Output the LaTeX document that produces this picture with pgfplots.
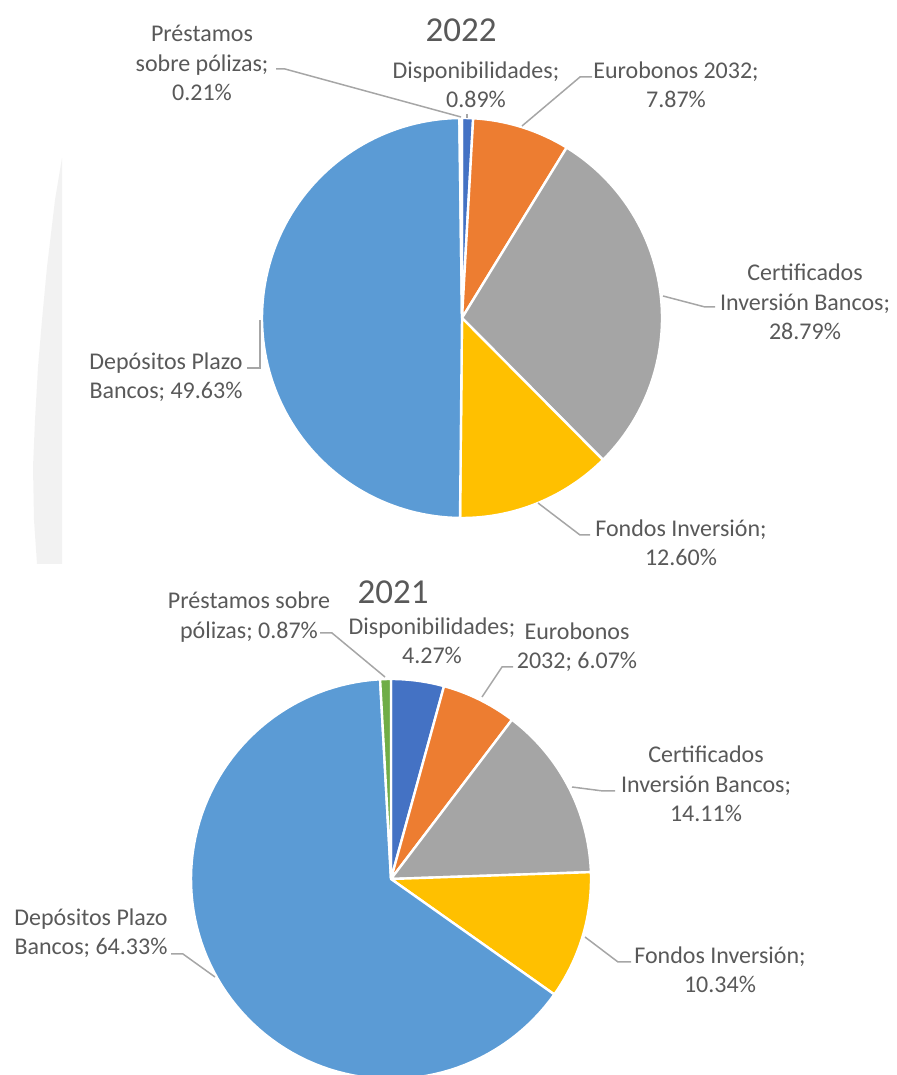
\documentclass[border=0pt]{standalone}
\usepackage{pgfplots}
\pgfplotsset{compat=1.18}
\usepackage{pgfplotstable}
\usepackage{fontspec}
\setmainfont{Carlito}
\definecolor{txt}{HTML}{595959}
\definecolor{lead}{HTML}{A6A6A6}
\definecolor{bgarc}{HTML}{F2F2F2}
\definecolor{cDisp}{HTML}{4472C4}
\definecolor{cEuro}{HTML}{ED7D31}
\definecolor{cCert}{HTML}{A5A5A5}
\definecolor{cFond}{HTML}{FFC000}
\definecolor{cDep}{HTML}{5B9BD5}
\definecolor{cPres}{HTML}{70AD47}

% 2022
\pgfplotstableread{
key v
Disp 0.89
Euro 7.87
Cert 28.79
Fond 12.60
Dep 49.63
Pres 0.21
}\dataA
% 2021
\pgfplotstableread{
key v
Disp 4.27
Euro 6.07
Cert 14.11
Fond 10.34
Dep 64.33
Pres 0.87
}\dataB

\newcommand\angles[2]{%
  \pgfplotstablegetrowsof{#1}\pgfmathtruncatemacro\lastrow{\pgfplotsretval-1}%
  \gdef\tot{0}%
  \foreach \i in {0,...,\lastrow}{\pgfplotstablegetelem{\i}{v}\of{#1}\pgfmathsetmacro\tmpv{\tot+\pgfplotsretval}\xdef\tot{\tmpv}}%
  \gdef\cumsum{0}%
  \foreach \i in {0,...,\lastrow}{%
    \pgfplotstablegetelem{\i}{v}\of{#1}%
    \pgfmathsetmacro\st{90-(\cumsum/\tot)*360}%
    \pgfmathsetmacro\newcum{\cumsum+\pgfplotsretval}%
    \pgfmathsetmacro\en{90-(\newcum/\tot)*360}%
    \expandafter\xdef\csname #2s\i\endcsname{\st}%
    \expandafter\xdef\csname #2e\i\endcsname{\en}%
    \xdef\cumsum{\newcum}}}

\newcommand\pieslice[5]{%
  \edef\tmpcmd{\noexpand\addplot[fill=#5, draw=white, line width=1.2pt, line join=round,
    domain=\csname #3e#4\endcsname:\csname #3s#4\endcsname, samples=100,
    variable=\noexpand\t, forget plot]
    ({#1+200*cos(\noexpand\t)},{#2+200*sin(\noexpand\t)}) -- (#1,#2) -- cycle;}%
  \tmpcmd}

\tikzset{
  lbl/.style={align=center, text=txt, inner sep=0pt, font={\fontsize{12}{14.7}\selectfont}},
  ttl/.style={text=txt, inner sep=0pt, font={\fontsize{17.5}{20}\selectfont}},
  leader/.style={draw=lead, line width=0.75pt}
}

\begin{document}
\begin{tikzpicture}
\angles{\dataA}{A}
\angles{\dataB}{B}
\begin{axis}[scale only axis, width=448pt, height=537.5pt,
  xmin=0, xmax=896, ymin=0, ymax=1075, hide axis, clip=true]
% faint background arc
\addplot[fill=bgarc, draw=none, forget plot] coordinates {(62,917) (55,875) (47,808) (42,755) (38,708) (35,655) (33,608) (34,555) (37,511) (62,511)} -- cycle;

% 2022 pie
\pieslice{462}{757}{A}{0}{cDisp}
\pieslice{462}{757}{A}{1}{cEuro}
\pieslice{462}{757}{A}{2}{cCert}
\pieslice{462}{757}{A}{3}{cFond}
\pieslice{462}{757}{A}{4}{cDep}
\pieslice{462}{757}{A}{5}{cPres}

% 2021 pie
\pieslice{391}{196}{B}{0}{cDisp}
\pieslice{391}{196}{B}{1}{cEuro}
\pieslice{391}{196}{B}{2}{cCert}
\pieslice{391}{196}{B}{3}{cFond}
\pieslice{391}{196}{B}{4}{cDep}
\pieslice{391}{196}{B}{5}{cPres}

% leaders 2022
\draw[leader] (276,1006) -- (285,1006) -- (461,958);
\draw[leader] (467,961) -- (467,957);
\draw[leader] (592,998) -- (580,998) -- (522,949);
\draw[leader] (715,768) -- (705,768) -- (663,779);
\draw[leader] (590,540) -- (580,540) -- (538,572);
\draw[leader] (247,707) -- (260,707) -- (260,755);
% leaders 2021
\draw[leader] (320,442) -- (332,442) -- (385,398);
\draw[leader] (513,408) -- (502,408) -- (482,378);
\draw[leader] (615,284) -- (603,284) -- (572,288);
\draw[leader] (631,113) -- (618,113) -- (585,138);
\draw[leader] (171,121) -- (183,121) -- (215,98);

% labels 2022
\node[ttl] at (461,1045) {2022};
\node[lbl] at (202,1012) {Préstamos\\sobre pólizas;\\0.21\%};
\node[lbl] at (476,990) {Disponibilidades;\\0.89\%};
\node[lbl] at (676,990) {Eurobonos 2032;\\7.87\%};
\node[lbl] at (805,773) {Certificados\\Inversión Bancos;\\28.79\%};
\node[lbl] at (681,532) {Fondos Inversión;\\12.60\%};
\node[lbl] at (166,698) {Depósitos Plazo\\Bancos; 49.63\%};
% labels 2021
\node[ttl] at (393,483) {2021};
\node[lbl] at (249,458) {Préstamos sobre\\pólizas; 0.87\%};
\node[lbl] at (432,434) {Disponibilidades;\\4.27\%};
\node[lbl] at (577,428) {Eurobonos\\2032; 6.07\%};
\node[lbl] at (706,291) {Certificados\\Inversión Bancos;\\14.11\%};
\node[lbl] at (720,105) {Fondos Inversión;\\10.34\%};
\node[lbl] at (91,142) {Depósitos Plazo\\Bancos; 64.33\%};
\end{axis}
\path (current axis.south west) rectangle (current axis.north east);
\end{tikzpicture}
\end{document}
